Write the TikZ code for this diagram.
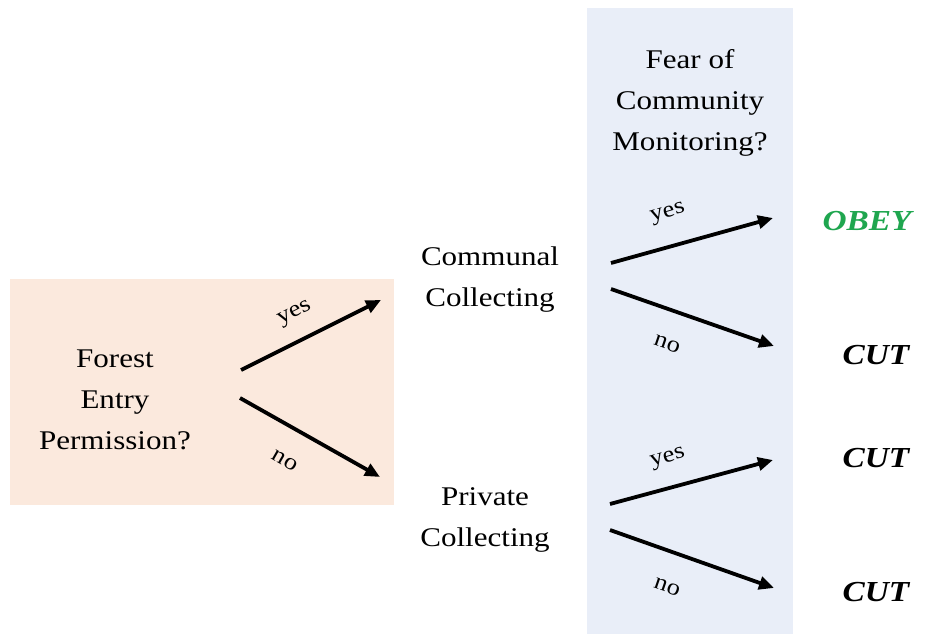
\documentclass[tikz,border=0pt]{standalone}
\usepackage{fontspec}
\setmainfont{Liberation Serif}[FakeStretch=1.15]
\usetikzlibrary{arrows.meta}
\definecolor{peach}{HTML}{FBE9DD}
\definecolor{paleblue}{HTML}{E9EEF8}
\definecolor{obeygreen}{HTML}{1FA64F}
\begin{document}
\begin{tikzpicture}[x=1pt,y=-1pt,
  txt/.style={align=center,font=\fontsize{27}{41}\selectfont,inner sep=0pt},
  lbl/.style={font=\fontsize{23}{26}\selectfont,inner sep=0pt},
  res/.style={font=\fontsize{29}{32}\selectfont\bfseries\itshape,inner sep=0pt},
  branch/.style={line width=3.8pt,-{Triangle[length=15pt,width=13pt]}}]
\useasboundingbox (0,0) rectangle (930,634);
\fill[peach] (10,279) rectangle (394,505);
\fill[paleblue] (587,8) rectangle (793,634);
\node[txt] (forest) at (115,400) {Forest\\Entry\\Permission?};
\node[txt] (communal) at (490,280) {Communal\\Collecting};
\node[txt] (private) at (485,520) {Private\\Collecting};
\node[txt] (fear) at (690,103) {Fear of\\Community\\Monitoring?};
\node[res,text=obeygreen] (obey) at (867,221) {OBEY};
\node[res] (cut1) at (876,355) {CUT};
\node[res] (cut2) at (876,458) {CUT};
\node[res] (cut3) at (876,592) {CUT};
\coordinate (fy0) at (241,370); \coordinate (fy1) at (381,300);
\coordinate (fn0) at (240,398); \coordinate (fn1) at (380,477);
\coordinate (cy0) at (611,263); \coordinate (cy1) at (773,218);
\coordinate (cn0) at (611,289); \coordinate (cn1) at (774,346);
\coordinate (py0) at (610,504); \coordinate (py1) at (773,460);
\coordinate (pn0) at (610,530); \coordinate (pn1) at (774,588);
\draw[branch] (fy0) -- (fy1);
\draw[branch] (fn0) -- (fn1);
\draw[branch] (cy0) -- (cy1);
\draw[branch] (cn0) -- (cn1);
\draw[branch] (py0) -- (py1);
\draw[branch] (pn0) -- (pn1);
\node[lbl,rotate=27] (l1) at (295,314) {yes};
\node[lbl,rotate=-30] (l2) at (285,461) {no};
\node[lbl,rotate=16] (l3) at (668,214) {yes};
\node[lbl,rotate=-19] (l4) at (667,344) {no};
\node[lbl,rotate=16] (l5) at (668,459) {yes};
\node[lbl,rotate=-19] (l6) at (667,587) {no};
\end{tikzpicture}
\end{document}
